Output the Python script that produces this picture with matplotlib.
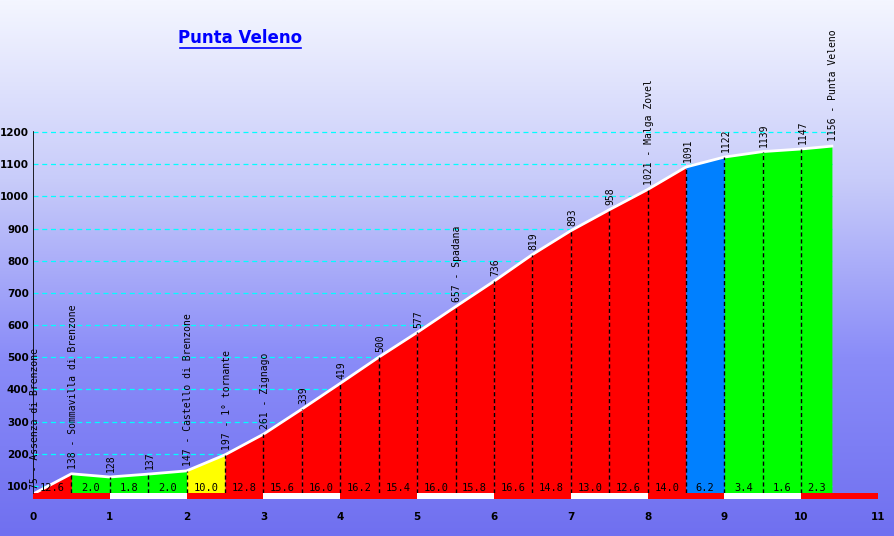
import matplotlib
matplotlib.use("Agg")
import matplotlib.pyplot as plt
import numpy as np
from matplotlib.patches import Rectangle
from matplotlib.colors import LinearSegmentedColormap

km = [0, 0.5, 1.0, 1.5, 2.0, 2.5, 3.0, 3.5, 4.0, 4.5, 5.0, 5.5, 6.0, 6.5, 7.0, 7.5, 8.0, 8.5, 9.0, 9.5, 10.0, 10.4]
alt = [75, 138, 128, 137, 147, 197, 261, 339, 419, 500, 577, 657, 736, 819, 893, 958, 1021, 1091, 1122, 1139, 1147, 1156]
names = {0: "Assenza di Brenzone", 1: "Sommavilla di Brenzone", 4: "Castello di Brenzone",
         5: "1° tornante", 6: "Zignago", 11: "Spadana", 16: "Malga Zovel", 21: "Punta Veleno"}
grades = ["12.6", "2.0", "1.8", "2.0", "10.0", "12.8", "15.6", "16.0", "16.2", "15.4", "16.0",
          "15.8", "16.6", "14.8", "13.0", "12.6", "14.0", "6.2", "3.4", "1.6", "2.3"]
title = "Punta Veleno"

def color(g):
    g = float(g)
    if g > 10: return "#ff0000"
    if g >= 9: return "#ffff00"
    if g >= 5: return "#0080ff"
    return "#00ff00"

W, H = 894, 536
fig = plt.figure(figsize=(W/100, H/100), dpi=100)
bg = fig.add_axes([0, 0, 1, 1])
grad = np.linspace(0, 1, 256).reshape(-1, 1)
cm = LinearSegmentedColormap.from_list("bg", ["#f4f6ff", "#c8ccfa", "#8a8cf8", "#7070f0"])
bg.imshow(grad, aspect="auto", cmap=cm, extent=[0, 1, 0, 1], origin="upper")
bg.axis("off")

y0p, y1p = 20, 502
ax = fig.add_axes([33/W, 1 - y1p/H, (878-33)/W, (y1p-y0p)/H])
ax.patch.set_alpha(0)
ax.set_xlim(0, 11)
ymin = 100 - (y1p-486)/0.322
ymax = 1200 + (132-y0p)/0.322
ax.set_ylim(ymin, ymax)
base = 78
for v in range(100, 1300, 100):
    ax.plot([0, 10.4], [v, v], color="#00ffff", ls=(0, (4, 3)), lw=0.9, zorder=1)
for i in range(len(km)-1):
    ax.fill_between(km[i:i+2], base, alt[i:i+2], color=color(grades[i]), lw=0, zorder=2)
    ax.text((km[i]+km[i+1])/2, 94, grades[i], ha="center", va="center", fontsize=7.5,
            family="DejaVu Sans Mono", zorder=5)
ax.plot(km, alt, color="white", lw=2, zorder=3)
for i, (x, a) in enumerate(zip(km, alt)):
    if 0 < i < len(km)-1:
        ax.plot([x, x], [base, a], color="black", ls=(0, (3, 2)), lw=1, zorder=4)
    lab = f"{a} - {names[i]}" if i in names else f"{a}"
    ax.text(x + 0.02, a + 15, lab, rotation=90, ha="center", va="bottom", fontsize=7,
            family="DejaVu Sans Mono", zorder=5)
for k in range(11):
    ax.add_patch(Rectangle((k, 60), 1, 18, facecolor="#ff0000" if k % 2 == 0 else "white",
                           edgecolor="none", lw=0, zorder=5))
ax.plot([0, 0], [78, 1200], color="black", lw=1.2, zorder=6)
for s in ax.spines.values():
    s.set_visible(False)
ax.set_yticks(range(100, 1300, 100))
ax.set_xticks(range(12))
ax.tick_params(length=0, labelsize=7.5)
ax.tick_params(axis="y", pad=3)
ax.tick_params(axis="x", pad=7)
for t in ax.get_yticklabels() + ax.get_xticklabels():
    t.set_fontweight("bold")
fig.text(240/W, 1 - 38/H, title, color="#0000ff", fontsize=12, fontweight="bold",
         ha="center", va="center")
fig.add_artist(plt.Line2D([180/W, 301/W], [1-48/H, 1-48/H], color="#0000ff", lw=1.2))
fig.savefig("out.png", dpi=100)
